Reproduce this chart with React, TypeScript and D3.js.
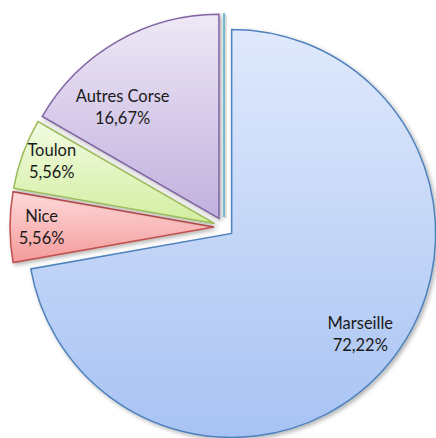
import React from "react";
import * as d3 from "d3";

// chart data
const categories = ["Marseille", "Nice", "Toulon", "Autres Corse", "Ajaccio"];
const values = [72.22, 5.56, 5.56, 16.67, 0];
const labels = ["72,22%", "5,56%", "5,56%", "16,67%", ""];

// styling per slice
const strokes = ["#4f81bd", "#c0504d", "#9bbb59", "#8064a2", "#4bacc6"];
const topColors = ["#e0e9fc", "#ffdada", "#f2fbe2", "#eee8f6", "#4bacc6"];
const bottomColors = ["#a8c3f3", "#f49a9a", "#d2eea0", "#c1b0de", "#4bacc6"];
const labelRadius = [0.8, 0.845, 0.855, 0.72, 0];
const labelAngleShift = [-2, 0, 1, -11, 0];

const width = 436;
const height = 438;
const cx = 224;
const cy = 227;
const radius = 204;
const explode = 10;

const App = () => {
  const items = categories.map((c, i) => ({ name: c, value: values[i], label: labels[i], i }));

  const pie = d3.pie<any>().sort(null).value((d) => d.value);
  const arcs = pie(items);
  const arc = d3.arc<any>().innerRadius(0).outerRadius(radius);

  return (
    <svg width={width} height={height} style={{ position: "absolute", left: 0, top: 0 }}>
      <defs>
        <filter id="shadow" x="-10%" y="-10%" width="130%" height="130%">
          <feDropShadow dx="2" dy="2" stdDeviation="2" floodColor="#000" floodOpacity="0.3" />
        </filter>
        {items.map((d) => (
          <linearGradient key={d.i} id={`grad${d.i}`} x1="0" y1="0" x2="0" y2="1">
            <stop offset="0%" stopColor={topColors[d.i]} />
            <stop offset="100%" stopColor={bottomColors[d.i]} />
          </linearGradient>
        ))}
      </defs>
      {arcs.map((a) => {
        const mid = (a.startAngle + a.endAngle) / 2;
        const ox = cx + Math.sin(mid) * explode;
        const oy = cy - Math.cos(mid) * explode;
        const i = a.data.i;
        if (a.value === 0) {
          // zero-value slice: just its edge line
          const ang = a.startAngle;
          return (
            <g key={i}>
              <line
                x1={ox + 1.5}
                y1={oy + 1.5}
                x2={ox + Math.sin(ang) * radius + 1.5}
                y2={oy - Math.cos(ang) * radius + 1.5}
                stroke="#000"
                strokeOpacity={0.12}
                strokeWidth={3}
              />
              <line
                x1={ox}
                y1={oy}
                x2={ox + Math.sin(ang) * radius}
                y2={oy - Math.cos(ang) * radius}
                stroke={strokes[i]}
                strokeWidth={1.5}
              />
            </g>
          );
        }
        return (
          <path
            key={i}
            d={arc(a) as string}
            transform={`translate(${ox},${oy})`}
            fill={`url(#grad${i})`}
            stroke={strokes[i]}
            strokeWidth={1.5}
            strokeLinejoin="miter"
            filter="url(#shadow)"
          />
        );
      })}
      {arcs.map((a) => {
        if (a.value === 0) return null;
        const i = a.data.i;
        const mid = (a.startAngle + a.endAngle) / 2;
        const ox = cx + Math.sin(mid) * explode;
        const oy = cy - Math.cos(mid) * explode;
        const la = mid + (labelAngleShift[i] * Math.PI) / 180;
        const lr = radius * labelRadius[i];
        const lx = ox + Math.sin(la) * lr;
        const ly = oy - Math.cos(la) * lr;
        return (
          <text
            key={`t${i}`}
            x={lx}
            y={ly}
            textAnchor="middle"
            fontFamily="Lato, 'Open Sans', sans-serif"
            fontSize={16.5}
            fill="#1a1a1a"
          >
            <tspan x={lx} dy="-5">{a.data.name}</tspan>
            <tspan x={lx} dy="22">{a.data.label}</tspan>
          </text>
        );
      })}
    </svg>
  );
};

export default App;
